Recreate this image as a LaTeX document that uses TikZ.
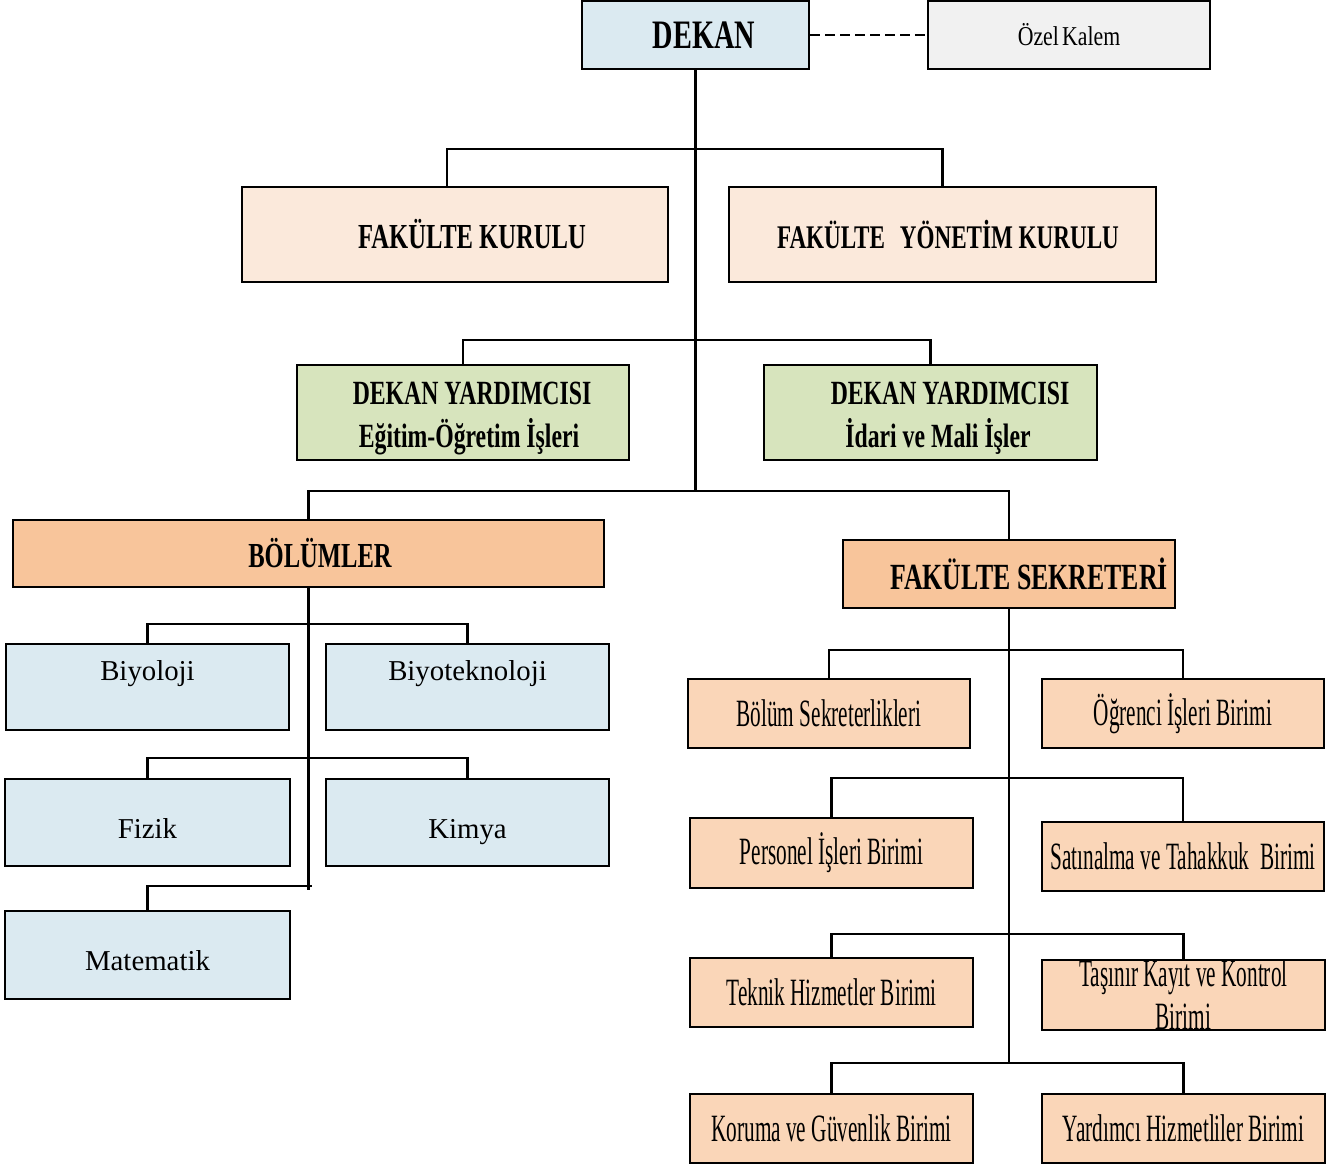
\documentclass[tikz,border=0pt]{standalone}
\usepackage{fontspec}
\setmainfont{Liberation Serif}
\newfontfamily\hdfont[FakeStretch=0.7]{Liberation Serif}
\newfontfamily\unitfont[FakeStretch=0.55]{Liberation Serif}
\newfontfamily\ozfont[FakeStretch=0.8]{Liberation Serif}
\definecolor{cblue}{HTML}{DBEAF1}
\definecolor{cgray}{HTML}{F1F1F1}
\definecolor{cpeach}{HTML}{FBE9DB}
\definecolor{cgreen}{HTML}{D7E4BD}
\definecolor{corange}{HTML}{F8C59B}
\definecolor{cunit}{HTML}{FAD6B8}
\newcommand\vtext[2]{\raisebox{#1}[0.68em][0.22em]{#2}}
\begin{document}
\begin{tikzpicture}[x=0.02cm,y=-0.02cm,
  box/.style={draw, line width=1.6pt, inner sep=0pt, align=center},
  hd/.style={box, font=\hdfont\bfseries\fontsize{20}{24.5}\selectfont},
  unit/.style={box, fill=cunit, line width=1.6pt, minimum width=5.64cm, minimum height=1.38cm,
    font=\unitfont\fontsize{22}{24.5}\selectfont},
  dept/.style={box, fill=cblue, minimum width=5.66cm, minimum height=1.74cm,
    font=\fontsize{16.4}{19}\selectfont},
  conn/.style={line width=1.2pt}]
\useasboundingbox (0,0) rectangle (1331,1168);
% top level
\node[box, fill=cblue, minimum width=4.54cm, minimum height=1.36cm,
  font=\hdfont\bfseries\fontsize{23}{26}\selectfont] (dekan) at (695.5,35) {\hspace*{0.34cm}DEKAN};
\node[box, fill=cgray, minimum width=5.64cm, minimum height=1.36cm,
  font=\ozfont\fontsize{15.5}{18}\selectfont] (ozel) at (1069,35) {Özel\hspace{0.12em}Kalem};
\node[hd, fill=cpeach, minimum width=8.52cm, minimum height=1.9cm] (fk) at (455,234.5)
  {\hspace*{0.68cm}FAKÜLTE KURULU};
\node[hd, fill=cpeach, minimum width=8.54cm, minimum height=1.9cm,
  font=\hdfont\bfseries\fontsize{18.8}{24}\selectfont] (fyk) at (942.5,234.5)
  {\hspace*{0.22cm}FAKÜLTE\hspace{0.45em}YÖNETİM KURULU};
\node[hd, fill=cgreen, minimum width=6.64cm, minimum height=1.9cm,
  font=\hdfont\bfseries\fontsize{19.3}{24.5}\selectfont] (dy1) at (463,412.5)
  {\rule{0pt}{1em}\hspace*{0.36cm}DEKAN YARDIMCISI\\\hspace*{0.24cm}Eğitim-Öğretim İşleri};
\node[hd, fill=cgreen, minimum width=6.66cm, minimum height=1.9cm,
  font=\hdfont\bfseries\fontsize{19.3}{24.5}\selectfont] (dy2) at (930.5,412.5)
  {\rule{0pt}{1em}\hspace*{0.78cm}DEKAN YARDIMCISI\\\hspace*{0.3cm}İdari ve Mali İşler};
\node[hd, fill=corange, minimum width=11.82cm, minimum height=1.34cm] (bol) at (308.5,553.5)
  {\hspace*{0.46cm}BÖLÜMLER};
\node[hd, fill=corange, minimum width=6.64cm, minimum height=1.36cm,
  font=\hdfont\bfseries\fontsize{21}{24}\selectfont] (fs) at (1009,574)
  {\hspace*{0.8cm}FAKÜLTE SEKRETERİ};
% departments
\node[dept, minimum height=1.72cm] (bio) at (147.5,687) {\vtext{0.26cm}{Biyoloji}};
\node[dept, minimum height=1.72cm] (btek) at (467.5,687) {\vtext{0.26cm}{Biyoteknoloji}};
\node[dept, line width=0.9pt, minimum width=5.7cm] (fiz) at (147.5,822.5) {\vtext{-0.18cm}{Fizik}};
\node[dept] (kim) at (467.5,822.5) {\vtext{-0.18cm}{Kimya}};
\node[dept, line width=0.9pt, minimum width=5.7cm, minimum height=1.76cm] (mat) at (147.5,955) {\vtext{-0.18cm}{Matematik}};
% units
\node[unit] (u1) at (829,713.5) {Bölüm Sekreterlikleri};
\node[unit] (u2) at (1183,713.5) {Öğrenci İşleri Birimi};
\node[unit, minimum width=5.66cm, minimum height=1.4cm] (u3) at (831.5,853) {Personel İşleri Birimi};
\node[unit] (u4) at (1183,856.5) {Satınalma ve Tahakkuk\ \ Birimi};
\node[unit, minimum width=5.66cm] (u5) at (831.5,992.5) {Teknik Hizmetler Birimi};
\node[unit, minimum width=5.66cm, minimum height=1.4cm] (u6) at (1183.5,995) {Taşınır Kayıt ve Kontrol\\Birimi};
\node[unit, minimum width=5.66cm] (u7) at (831.5,1128.5) {Koruma ve Güvenlik Birimi};
\node[unit, minimum width=5.66cm] (u8) at (1183.5,1128.5) {Yardımcı Hizmetliler Birimi};
% junctions
\coordinate (j1) at (695,149);
\coordinate (j2) at (695,340);
\coordinate (j3) at (695,491);
\coordinate (b1) at (309,624);
\coordinate (b2) at (309,758);
\coordinate (b3) at (312,886);
\coordinate (bend) at (309,890);
\coordinate (s1) at (1009,650);
\coordinate (s2) at (1009,778);
\coordinate (s3) at (1009,934);
\coordinate (s4) at (1009,1063);
% connectors
\draw[line width=1.3pt, dash pattern=on 5.5pt off 3pt] (dekan.east) -- (ozel.west);
\draw[conn] (dekan.south) -- (dekan.south |- j3);
\draw[conn] ([xshift=-0.16cm]fk.north) |- (j1) -| (fyk.north);
\draw[conn] (dy1.north) |- (j2) -| (dy2.north);
\draw[conn] (bol.north) |- (j3) -| (fs.north);
\draw[conn] (bol.south) -- (bol.south |- bend);
\draw[conn] (bio.north) |- (b1) -| (btek.north);
\draw[conn] (fiz.north) |- (b2) -| (kim.north);
\draw[conn] (mat.north) |- (b3);
\draw[conn] (fs.south) -- (s4);
\draw[conn] (u1.north) |- (s1) -| (u2.north);
\draw[conn] (u3.north) |- (s2) -| (u4.north);
\draw[conn] (u5.north) |- (s3) -| (u6.north);
\draw[conn] (u7.north) |- (s4) -| (u8.north);
\end{tikzpicture}
\end{document}
